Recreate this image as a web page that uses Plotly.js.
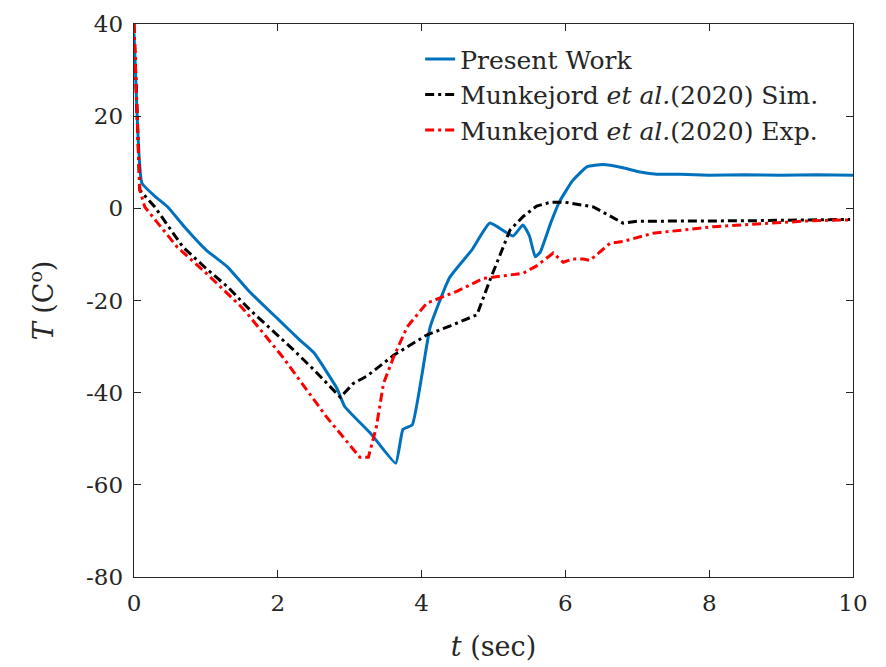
<!DOCTYPE html>
<html>
<head>
<meta charset="utf-8">
<script src="https://cdn.plot.ly/plotly-3.0.1.min.js"></script>
<style>html,body{margin:0;padding:0;background:#fff;}#chart{width:886px;height:667px;}</style>
</head>
<body>
<div id="chart"></div>
<script>
// Present Work
const tPresent = [0, 0.02, 0.11, 0.3, 0.47, 0.7, 1.0, 1.3, 1.6, 2.0, 2.3, 2.5, 2.82, 2.93, 3.3, 3.64, 3.74, 3.87, 4.12, 4.39, 4.7, 4.95, 5.27, 5.41, 5.5, 5.58, 5.65, 5.8, 5.92, 6.1, 6.3, 6.52, 6.8, 7.0, 7.27, 7.6, 8.0, 8.5, 9.0, 9.5, 10];
const TPresent = [38, 30, 5.5, 2.5, 0.3, -4, -9, -12.7, -18, -24, -28.5, -31.3, -39, -43, -49, -55.3, -48, -47, -25.7, -15, -9, -3.2, -6, -3.6, -6, -10.5, -9.5, -3, 1.5, 6, 9, 9.5, 8.8, 8, 7.4, 7.4, 7.2, 7.3, 7.2, 7.3, 7.2];
// Munkejord et al. (2020) Sim.
const tSim = [0, 0.03, 0.08, 0.29, 0.68, 1.0, 1.3, 1.61, 2.21, 2.5, 2.87, 3.05, 3.24, 3.61, 4.07, 4.4, 4.77, 4.95, 5.23, 5.41, 5.6, 5.79, 6.0, 6.39, 6.6, 6.8, 7.0, 7.6, 8.5, 9.5, 9.96];
const TSim = [40, 25, 4, 0.3, -8.4, -13, -17, -22, -30.6, -35, -41, -38, -36.4, -31.9, -27.5, -25.5, -23.1, -15.6, -4.7, -1.8, 0.5, 1.3, 1.3, 0.3, -1.5, -3.2, -2.8, -2.8, -2.7, -2.5, -2.4];
// Munkejord et al. (2020) Exp.
const tExp = [0, 0.03, 0.08, 0.15, 0.6, 1.0, 1.5, 1.61, 2.07, 2.68, 3.14, 3.26, 3.37, 3.47, 3.61, 3.8, 4.07, 4.49, 4.86, 5.41, 5.6, 5.83, 5.97, 6.1, 6.25, 6.34, 6.62, 6.8, 7.22, 8.05, 8.75, 9.4, 9.96];
const TExp = [40, 25, 4, 0.3, -8.4, -14, -21.5, -23.5, -32.3, -45.3, -54, -54, -47.5, -38, -32.3, -25.7, -20.6, -18, -15.2, -14.1, -12.5, -9.7, -11.7, -11, -11, -11.3, -7.6, -7.2, -5.4, -4, -3.3, -2.7, -2.5];

const names = ["Present Work", "Munkejord <i>et al.</i>(2020) Sim.", "Munkejord <i>et al.</i>(2020) Exp."];
const xTicks = [0, 2, 4, 6, 8, 10];
const yTicks = [40, 20, 0, -20, -40, -60, -80];
const yTickText = ["40", "20", "0", "-20", "-40", "-60", "-80"];

const font = "DejaVu Serif";
const traces = [
  {x: tPresent, y: TPresent, name: names[0], mode: "lines", line: {color: "#0072BD", width: 3, shape: "spline", smoothing: 0.4}},
  {x: tSim, y: TSim, name: names[1], mode: "lines", line: {color: "#000000", width: 3, dash: "9px,4px,3px,4px"}},
  {x: tExp, y: TExp, name: names[2], mode: "lines", line: {color: "#FF0000", width: 3, dash: "9px,4px,3px,4px"}}
];
const axisCommon = {
  showline: true, mirror: "ticks", linecolor: "#262626", linewidth: 1.3,
  ticks: "inside", ticklen: 7, tickcolor: "#262626", tickwidth: 1.3,
  showgrid: false, zeroline: false, ticklabelstandoff: 5,
  tickfont: {family: font, size: 23, color: "#262626"}
};
const layout = {
  width: 886, height: 667,
  margin: {l: 134, r: 33, t: 24, b: 90},
  paper_bgcolor: "#fff", plot_bgcolor: "#fff",
  showlegend: true,
  legend: {x: 0.398, y: 0.978, xanchor: "left", yanchor: "top", bgcolor: "rgba(0,0,0,0)",
           font: {family: font, size: 25, color: "#262626"}, tracegroupgap: 0},
  xaxis: Object.assign({}, axisCommon, {range: [0, 10], tickvals: xTicks,
    title: {text: "<i>t</i> (sec)", font: {family: font, size: 27, color: "#262626"}, standoff: 22}}),
  yaxis: Object.assign({}, axisCommon, {range: [-80, 40], tickvals: yTicks, ticktext: yTickText,
    title: {text: "<i>T</i> (C<sup>o</sup>)", font: {family: font, size: 27, color: "#262626"}, standoff: 24}})
};
Plotly.newPlot("chart", traces, layout, {displayModeBar: false, staticPlot: true});
</script>
</body>
</html>
